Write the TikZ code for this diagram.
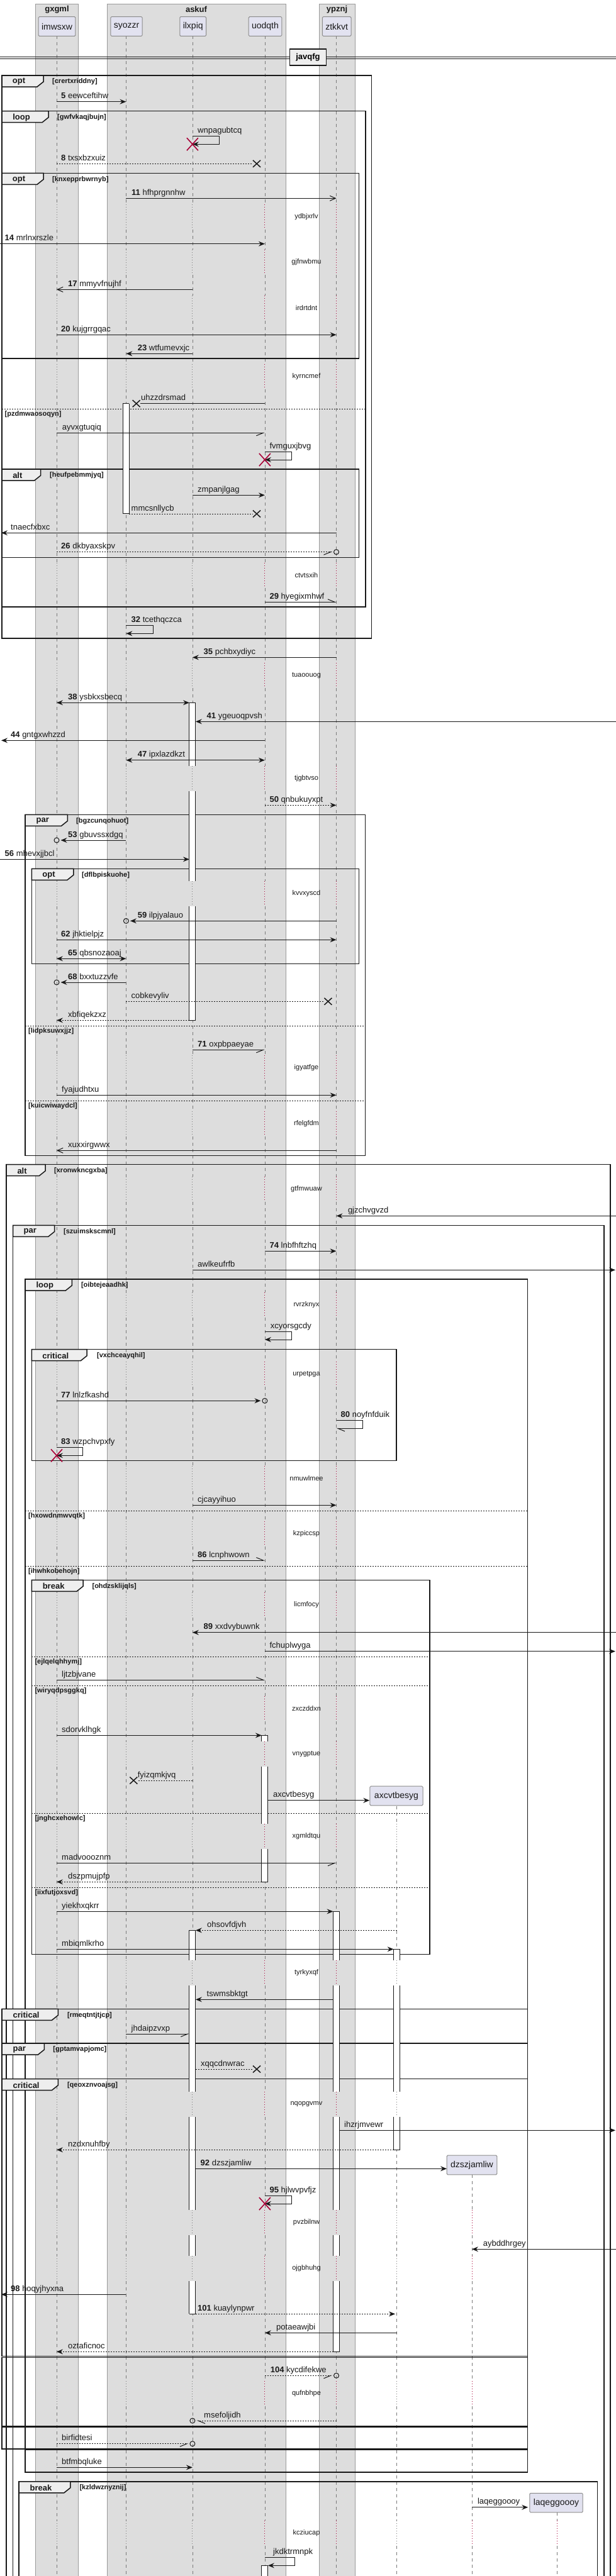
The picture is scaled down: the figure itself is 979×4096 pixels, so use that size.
\documentclass[tikz,border=0pt]{standalone}
\usepackage{fontspec}
\setmainfont{Liberation Sans}
\usetikzlibrary{arrows.meta}
\definecolor{ink}{HTML}{181818}
\definecolor{boxfill}{HTML}{DDDDDD}
\definecolor{boxline}{HTML}{9A9A9A}
\definecolor{partfill}{HTML}{E2E2F0}
\definecolor{partline}{HTML}{8C8C8C}
\definecolor{lifec}{HTML}{7A7A7A}
\definecolor{delred}{HTML}{A80036}
\definecolor{tabfill}{HTML}{EEEEEE}
\tikzset{
 grpbox/.style={fill=boxfill,draw=boxline,line width=0.8pt},
 grptitle/.style={font=\fontsize{13}{15}\selectfont\bfseries,text=ink,inner sep=0},
 partbox/.style={draw=partline,fill=partfill,line width=1pt,rounded corners=1.5pt,minimum height=30.6pt,inner xsep=5pt,font=\fontsize{14}{16}\selectfont,text=ink},
 lifel/.style={draw=lifec,line width=0.8pt,dash pattern=on 5pt off 5pt},
 delayl/.style={line width=0.9pt,dash pattern=on 1pt off 3pt},
 msgline/.style={line width=1pt,draw=ink},
 dotl/.style={dash pattern=on 2pt off 2pt},
 fhead/.style={-{Stealth[length=10pt,width=8pt,inset=3.5pt]}},
 bothhead/.style={{Stealth[length=10pt,width=8pt,inset=3.5pt]}-{Stealth[length=10pt,width=8pt,inset=3.5pt]}},
 ohead/.style={-{Straight Barb[length=9pt,width=8pt]}},
 harpL/.style={-{Straight Barb[harpoon,length=11pt,width=9pt]}},
 harpR/.style={-{Straight Barb[harpoon,swap,length=11pt,width=9pt]}},
 lbl/.style={anchor=base west,inner sep=0,font=\fontsize{13}{15}\selectfont,text=ink},
 notetext/.style={inner sep=0,font=\fontsize{11}{13}\selectfont,text=ink},
 fragline/.style={draw=ink,line width=1.5pt},
 tablbl/.style={inner sep=0,font=\fontsize{13}{15}\selectfont\bfseries,text=ink},
 guardlbl/.style={anchor=west,inner sep=0,font=\fontsize{11}{13}\selectfont\bfseries,text=ink},
 sepline/.style={draw=ink,line width=1pt,dash pattern=on 2pt off 2pt},
 barline/.style={draw=ink,line width=0.9pt},
 circmark/.style={circle,draw=ink,line width=1pt,minimum size=8pt,inner sep=0},
}
\newcount\mcnt
\newcount\fcnt
\newcount\ccnt
\newcommand\normsegs{57.3/325,365/397,437/470,510/579,619/895,935/1054,1094/1218,1258/1401,1441/1678,1718/1767,1807/1871,1911/2055,2095/2165,2205/2331,2371/2419,2459/2532,2572/2697,2737/2769,2809/2900,2940/3117,3157/3326,3366/3514,3554/3587,3627/3786,3826/4008,4048/4110}
\newcommand\delaylist{345,417,490,599,915,1074,1238,1421,1698,1787,1891,2075,2185,2351,2439,2552,2717,2789,2920,3137,3346,3534,3607,3806,4028}
\newcommand\LifeLine[3]{%
 \foreach \sa/\sb in \normsegs {%
   \pgfmathsetmacro\LLs{max(\sa,#2)}%
   \ifdim\LLs pt<\sb pt \draw[lifel] (#1,\LLs) -- (#1,\sb);\fi
 }%
 \foreach \dd in \delaylist {%
   \pgfmathsetmacro\LLs{max(\dd-20,#2)}%
   \pgfmathsetmacro\LLe{\dd+20}%
   \ifdim\LLs pt<\LLe pt \draw[delayl,draw=#3] (#1,\LLs) -- (#1,\LLe);\fi
 }%
}
\newcommand\Msg[6]{%
 \global\advance\mcnt by 1
 \coordinate (m\the\mcnt a) at (#2,#4);
 \coordinate (m\the\mcnt b) at (#3,#4);
 \draw[msgline,#1] (m\the\mcnt a) -- (m\the\mcnt b);
 \node[lbl] (t\the\mcnt) at (#5,#4-5) {#6};
}
\newcommand\SelfMsg[8]{%
 \global\advance\mcnt by 1
 \coordinate (m\the\mcnt a) at (#2,#3);
 \coordinate (m\the\mcnt b) at (#6,#4);
 \draw[msgline,#1] (m\the\mcnt a) -- (#5,#3) -- (#5,#4) -- (m\the\mcnt b);
 \node[lbl] (t\the\mcnt) at (#7,#3-5) {#8};
}
\newcommand\Frag[8]{%
 \global\advance\fcnt by 1
 \draw[fragline] (#1,#2) rectangle (#3,#4);
 \filldraw[fragline,fill=tabfill] (#1,#2) -- (#5,#2) -- (#5,#2+10) -- (#5-10,#2+18) -- (#1,#2+18) -- cycle;
 \node[tablbl] (f\the\fcnt l) at ({(#1+#5)/2-6},#2+10) {#6};
 \node[guardlbl] (f\the\fcnt g) at (#8,#2+10) {#7};
}
\newcommand\Sep[5]{%
 \global\advance\fcnt by 1
 \draw[sepline] (#1,#3) -- (#2,#3);
 \node[guardlbl] (f\the\fcnt g) at (#5,#3+8) {#4};
}
\newcommand\BarSeg[3]{%
 \fill[white] (#1-5,#2) rectangle (#1+5,#3);
 \draw[barline] (#1-5,#2) -- (#1-5,#3) (#1+5,#2) -- (#1+5,#3);
}
\newcommand\BarCap[2]{\draw[barline] (#1-5,#2) -- (#1+5,#2);}
\newcommand\RedX[2]{\draw[draw=delred,line width=1.6pt] (#1-9,#2-10) -- (#1+9,#2+10) (#1-9,#2+10) -- (#1+9,#2-10);}
\newcommand\BlackX[2]{\draw[draw=ink,line width=1.5pt] (#1-6,#2-5.5) -- (#1+6,#2+5.5) (#1-6,#2+5.5) -- (#1+6,#2-5.5);}
\newcommand\Circ[2]{\global\advance\ccnt by 1 \node[circmark] (c\the\ccnt) at (#1,#2) {};}
\begin{document}
\begin{tikzpicture}[x=1pt,y=-1pt]
\useasboundingbox (0,0) rectangle (979,4096);
\fill[white] (0,0) rectangle (979,4096);
% group boxes
\draw[grpbox] (56.5,6) rectangle (124.4,4120);
\draw[grpbox] (170.2,6) rectangle (454.1,4120);
\draw[grpbox] (506.9,6) rectangle (564.1,4120);
\node[grptitle] (g1) at (90.5,15) {gxgml};
\node[grptitle] (g2) at (312,15) {askuf};
\node[grptitle] (g3) at (535.5,15) {ypznj};
% lifelines
\LifeLine{90}{57.3}{lifec}
\LifeLine{200.4}{57.3}{lifec}
\LifeLine{305.9}{57.3}{lifec}
\LifeLine{420.9}{57.3}{delred}
\LifeLine{534.5}{57.3}{delred}
\LifeLine{630.6}{2871.7}{lifec}
\LifeLine{750}{3458}{delred}
\LifeLine{885}{3995}{delred}
% participants
\node[partbox] (imwsxw) at (90.5,42) {imwsxw};
\node[partbox] (syozzr) at (201,42) {syozzr};
\node[partbox] (ilxpiq) at (306.7,42) {ilxpiq};
\node[partbox] (uodqth) at (421.5,42) {uodqth};
\node[partbox] (ztkkvt) at (535.2,42) {ztkkvt};
\node[partbox,inner xsep=7pt] (axcvtbesyg) at (630,2855.5) {axcvtbesyg};
\node[partbox,inner xsep=6pt] (dzszjamliw) at (750,3442.5) {dzszjamliw};
\node[partbox,inner xsep=6pt] (laqeggoooy) at (884,3979.5) {laqeggoooy};
% divider
\draw[draw=ink,line width=1pt] (0,90) -- (979,90) (0,93.3) -- (979,93.3);
\node[draw=ink,line width=1.5pt,fill=tabfill,minimum width=58pt,minimum height=26pt,inner sep=0,font=\fontsize{13}{15}\selectfont\bfseries] (javqfg) at (489.5,91) {javqfg};
% fragments
\Frag{3}{120}{590.4}{1015}{69}{opt}{[crertxriddny]}{83}
\Frag{3}{176.7}{581}{965}{77}{loop}{[gwfvkaqjbujn]}{91}
\Sep{3}{581}{650.3}{[pzdmwaosoqyn]}{7.5}
\Frag{3}{275.3}{570.4}{570}{69}{opt}{[knxepprbwrnyb]}{83}
\Frag{3}{746}{570.4}{886.7}{64.7}{alt}{[heufpebmmjyq]}{79}
\Frag{40.2}{1295.3}{580.4}{1837.3}{107.4}{par}{[bgzcunqohuot]}{121}
\Sep{40.2}{580.4}{1631.3}{[lidpksuwxjjz]}{45}
\Sep{40.2}{580.4}{1750.3}{[kuicwiwaydcl]}{45}
\Frag{50.3}{1381.3}{570.4}{1532.7}{116.8}{opt}{[dflbpiskuohe]}{130}
\Frag{10}{1851.7}{969.8}{4120}{72.2}{alt}{[xronwkncgxba]}{86}
\Frag{20.7}{1948.3}{959.8}{4120}{86.7}{par}{[szuimskscmnl]}{101}
\Frag{40.2}{2034}{838.6}{3931}{114.3}{loop}{[oibtejeaadhk]}{128.8}
\Sep{40.2}{838.6}{2402.3}{[hxowdnmwvqtk]}{45}
\Sep{40.2}{838.6}{2490.3}{[ihwhkobehojn]}{45}
\Frag{50.3}{2145.7}{630}{2322.3}{138.2}{critical}{[vxchceayqhil]}{154}
\Frag{50.3}{2512.3}{682.8}{3107.3}{132}{break}{[ohdzsklijqls]}{146.4}
\Sep{50.3}{682.8}{2634.3}{[ejlqelqhhymj]}{55.3}
\Sep{50.3}{682.8}{2680.3}{[wiryqdpsggkq]}{55.3}
\Sep{50.3}{682.8}{2883.3}{[jnghcxehowlc]}{55.3}
\Sep{50.3}{682.8}{3001.3}{[iixfutjoxsvd]}{55.3}
\Frag{3}{3194.3}{838.6}{3249}{92.3}{critical}{[rmeqtntjtjcp]}{106.8}
\Frag{3}{3249}{838.6}{3305.7}{70.4}{par}{[gptamvapjomc]}{84.2}
\Frag{3}{3305.7}{838.6}{3746.7}{92.3}{critical}{[qeoxznvoajsg]}{106.8}
\draw[fragline] (3,3748.3) rectangle (838.6,3857.3);
\draw[fragline] (3,3859) rectangle (838.6,3894);
\draw[fragline] (40.2,3895.5) -- (838.6,3895.5);
\Frag{30.2}{3945.7}{949.7}{4120}{111.8}{break}{[kzldwznyznij]}{126.3}
% activation bars
\BarSeg{200.4}{641.7}{816.7}\BarCap{200.4}{641.7}\BarCap{200.4}{816.7}
\BarSeg{305.9}{1117.3}{1218}\BarSeg{305.9}{1258}{1401}\BarSeg{305.9}{1441}{1622.3}\BarCap{305.9}{1117.3}\BarCap{305.9}{1622.3}
\BarSeg{420.9}{2759.3}{2769}\BarSeg{420.9}{2809}{2900}\BarSeg{420.9}{2940}{2992.3}\BarCap{420.9}{2759.3}\BarCap{420.9}{2992.3}
\BarSeg{534.5}{3039.3}{3117}\BarSeg{534.5}{3157}{3326}\BarSeg{534.5}{3366}{3514}\BarSeg{534.5}{3554}{3587}\BarSeg{534.5}{3627}{3739.3}\BarCap{534.5}{3039.3}\BarCap{534.5}{3739.3}
\BarSeg{305.9}{3069.3}{3117}\BarSeg{305.9}{3157}{3326}\BarSeg{305.9}{3366}{3514}\BarSeg{305.9}{3554}{3587}\BarSeg{305.9}{3627}{3679.3}\BarCap{305.9}{3069.3}\BarCap{305.9}{3679.3}
\BarSeg{630.6}{3099.3}{3117}\BarSeg{630.6}{3157}{3326}\BarSeg{630.6}{3366}{3418.3}\BarCap{630.6}{3099.3}\BarCap{630.6}{3418.3}
\BarSeg{420.9}{4079.3}{4110}\BarCap{420.9}{4079.3}
% messages
\Msg{fhead}{90}{200.4}{161.7}{97}{\textbf{5} eewceftihw}
\SelfMsg{fhead}{305.9}{216.7}{229.3}{348.6}{305.9}{314}{wnpagubtcq}
\RedX{305.9}{229.3}
\Msg{dotl}{90}{402}{260.3}{97}{\textbf{8} txsxbzxuiz}
\BlackX{408}{260.3}
\Msg{ohead}{200.4}{534.5}{315.3}{209}{\textbf{11} hfhprgnnhw}
\Msg{fhead}{0}{420.9}{387.7}{7.5}{\textbf{14} mrlnxrszle}
\Msg{ohead}{305.9}{90}{460.3}{108}{\textbf{17} mmyvfnujhf}
\Msg{fhead}{90}{534.5}{532.3}{97}{\textbf{20} kujgrrgqac}
\Msg{fhead}{305.9}{200.4}{562.3}{218.6}{\textbf{23} wtfumevxjc}
\Msg{}{420.9}{222.7}{641.7}{224}{uhzzdrsmad}
\BlackX{216.7}{641.7}
\Msg{harpR}{90}{420.9}{688.3}{98.6}{ayvxgtuqiq}
\SelfMsg{fhead}{420.9}{718.3}{731}{463}{420.9}{428.4}{fvmguxjbvg}
\RedX{420.9}{731}
\Msg{fhead}{305.9}{420.9}{787.3}{314}{zmpanjlgag}
\Msg{dotl}{205.4}{402}{817}{208.5}{mmcsnllycb}
\BlackX{408}{817}
\Msg{fhead}{534.5}{2}{847.3}{17}{tnaecfxbxc}
\Msg{dotl,harpR}{90}{528}{877.7}{97}{\textbf{26} dkbyaxskpv}
\Circ{534.5}{877.7}
\Msg{harpL}{420.9}{534.5}{957.3}{428.4}{\textbf{29} hyegixmhwf}
\SelfMsg{fhead}{200.4}{994.3}{1007.3}{243}{200.4}{208.5}{\textbf{32} tcethqczca}
\Msg{fhead}{534.5}{305.9}{1045.3}{323.5}{\textbf{35} pchbxydiyc}
\Msg{bothhead}{90}{300.9}{1117.3}{108}{\textbf{38} ysbkxsbecq}
\Msg{fhead}{979}{310.9}{1147.3}{328.5}{\textbf{41} ygeuoqpvsh}
\Msg{fhead}{420.9}{2}{1177.3}{17}{\textbf{44} gntgxwhzzd}
\Msg{bothhead}{200.4}{420.9}{1208.7}{218.6}{\textbf{47} ipxlazdkzt}
\Msg{fhead,dotl}{420.9}{534.5}{1280.3}{428.4}{\textbf{50} qnbukuyxpt}
\Msg{fhead}{200.4}{96.5}{1336}{108}{\textbf{53} gbuvssxdgq}
\Circ{90}{1336}
\Msg{fhead}{0}{300.9}{1366.3}{7.5}{\textbf{56} mhevxjjbcl}
\Msg{fhead}{534.5}{206.9}{1464.3}{218.6}{\textbf{59} ilpjyalauo}
\Circ{200.4}{1464.3}
\Msg{fhead}{90}{534.5}{1494.3}{97}{\textbf{62} jhktielpjz}
\Msg{bothhead}{90}{200.4}{1524.3}{108}{\textbf{65} qbsnozaoaj}
\Msg{fhead}{200.4}{96.5}{1562}{108}{\textbf{68} bxxtuzzvfe}
\Circ{90}{1562}
\Msg{dotl}{200.4}{515}{1592.3}{208.5}{cobkevyliv}
\BlackX{521.4}{1592.3}
\Msg{fhead,dotl}{300.9}{90}{1622.3}{108}{xbfiqekzxz}
\Msg{harpR}{305.9}{420.9}{1669.3}{314}{\textbf{71} oxpbpaeyae}
\Msg{fhead}{90}{534.5}{1741.3}{98}{fyajudhtxu}
\Msg{ohead}{534.5}{90}{1829.3}{108}{xuxxirgwwx}
\Msg{fhead}{979}{534.5}{1933.3}{552.8}{gjzchvgvzd}
\Msg{fhead}{420.9}{534.5}{1989.3}{428.4}{\textbf{74} lnbfhftzhq}
\Msg{fhead}{305.9}{978}{2019.3}{314}{awlkeufrfb}
\SelfMsg{fhead}{420.9}{2117.3}{2130}{463}{420.9}{429.6}{xcyorsgcdy}
\Msg{fhead}{90}{414.4}{2227.3}{97}{\textbf{77} lnlzfkashd}
\Circ{420.9}{2227.3}
\SelfMsg{harpL}{534.5}{2258.3}{2271.3}{576.6}{534.5}{541.5}{\textbf{80} noyfnfduik}
\SelfMsg{fhead}{90}{2301}{2314.3}{131.9}{90}{97}{\textbf{83} wzpchvpxfy}
\RedX{90}{2314.3}
\Msg{fhead}{305.9}{534.5}{2393.3}{314}{cjcayyihuo}
\Msg{harpL}{305.9}{420.9}{2481}{314}{\textbf{86} lcnphwown}
\Msg{fhead}{979}{305.9}{2595.7}{323.5}{\textbf{89} xxdvybuwnk}
\Msg{fhead}{420.9}{978}{2625.7}{428.4}{fchuplwyga}
\Msg{harpL}{90}{420.9}{2671.3}{98}{ljtzbjvane}
\Msg{fhead}{90}{415.9}{2759.3}{98}{sdorvklhgk}
\Msg{dotl}{305.9}{218}{2831}{218.6}{fyizqmkjvq}
\BlackX{212.3}{2831}
\Msg{fhead}{425.9}{587.3}{2862.7}{434}{axcvtbesyg}
\Msg{harpR}{90}{534.5}{2962.3}{98}{madvoooznm}
\Msg{fhead,dotl}{415.9}{90}{2992.3}{108}{dszpmujpfp}
\Msg{fhead}{90}{529.5}{3039.3}{98}{yiekhxqkrr}
\Msg{fhead,dotl}{630.6}{310.9}{3069.3}{329}{ohsovfdjvh}
\Msg{fhead}{90}{625.6}{3099.3}{98}{mbiqmlkrho}
\Msg{fhead}{529.5}{310.9}{3179.3}{328.5}{tswmsbktgt}
\Msg{harpR}{200.4}{300.9}{3234}{208.5}{jhdaipzvxp}
\Msg{dotl}{310.9}{402}{3290}{319}{xqqcdnwrac}
\BlackX{408}{3290}
\Msg{fhead}{539.5}{978}{3387.3}{547}{ihzrjmvewr}
\Msg{fhead,dotl}{625.6}{90}{3418.3}{108}{nzdxnuhfby}
\Msg{fhead}{310.9}{710}{3448.3}{318.5}{\textbf{92} dzszjamliw}
\SelfMsg{fhead}{420.9}{3491}{3504}{463}{420.9}{428.4}{\textbf{95} hjlwvpvfjz}
\RedX{420.9}{3504}
\Msg{fhead}{979}{750}{3576.3}{767.6}{aybddhrgey}
\Msg{fhead}{200.4}{2}{3648.3}{17}{\textbf{98} hoqyjhyxna}
\Msg{fhead,dotl}{310.9}{628}{3679.3}{314}{\textbf{101} kuaylynpwr}
\Msg{fhead}{630.6}{420.9}{3709.3}{439}{potaeawjbi}
\Msg{fhead,dotl}{529.5}{90}{3739.3}{108}{oztaficnoc}
\Msg{dotl,harpR}{420.9}{528}{3777.3}{429.6}{\textbf{104} kycdifekwe}
\Circ{534.5}{3777.3}
\Msg{dotl,harpL}{534.5}{312.4}{3849}{324}{msefoljidh}
\Circ{305.9}{3849}
\Msg{dotl,harpR}{90}{299.4}{3885.7}{98}{birfidtesi}
\Circ{305.9}{3885.7}
\Msg{fhead}{90}{305.9}{3923.3}{98}{btfmbqluke}
\Msg{fhead}{750}{839.2}{3986.7}{758.8}{laqeggoooy}
\SelfMsg{fhead}{420.9}{4066.7}{4079.3}{468}{425.9}{434}{jkdktrmnpk}
% delay notes
\foreach \dy/\dt [count=\i] in {345/ydbjxrlv,417/gjfnwbmu,490/irdrtdnt,599/kyrncmef,915/ctvtsxih,1074/tuaoouog,1238/tjgbtvso,1421/kvvxyscd,1698/igyatfge,1787/rfelgfdm,1891/gtfmwuaw,2075/rvrzknyx,2185/urpetpga,2351/nmuwlmee,2439/kzpiccsp,2552/licmfocy,2717/zxczddxn,2789/vnygptue,2920/xgmldtqu,3137/tyrkyxqf,3346/nqopgvmv,3534/pvzbilnw,3607/ojgbhuhg,3806/qufnbhpe,4028/kcziucap}
  {\node[notetext] (d\i) at (487,\dy) {\dt};}
\end{tikzpicture}
\end{document}
